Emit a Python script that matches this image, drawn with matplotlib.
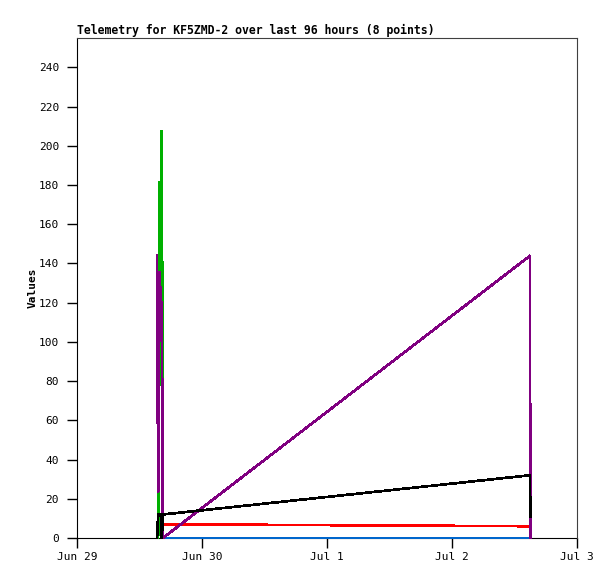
import matplotlib
matplotlib.use("Agg")
import matplotlib.pyplot as plt
import matplotlib.dates as mdates
import numpy as np
import pandas as pd

# Data (8 telemetry points)
times = ["2013-06-29 15:22", "2013-06-29 15:35", "2013-06-29 15:52", "2013-06-29 16:05",
         "2013-06-29 16:17", "2013-06-29 16:30", "2013-07-02 15:00", "2013-07-02 15:01"]
red_vals = [7, 7, 7, 7, 7, 7, 6, 6]
green_vals = [0, 0, 182, 78, 208, 0, 0, 0]
blue_vals = [np.nan, np.nan, np.nan, np.nan, np.nan, 0, 0, 0]
purple_vals = [144, 23, 136, 120, 120, 0, 144, 0]
black_vals = [0, 12, 12, 12, 0, 12, 32, 11]

title = "Telemetry for KF5ZMD-2 over last 96 hours (8 points)"
ylabel = "Values"
yticks = list(range(0, 241, 20))
xstart, xend = "2013-06-29", "2013-07-03"

t = pd.to_datetime(times)

plt.rcParams['font.family'] = ['DejaVu Sans Mono']
fig = plt.figure(figsize=(6.15, 5.79), dpi=100)
ax = fig.add_axes([77/615, 41/579, 500/615, 500/579])

series = [(red_vals, "#ff0000"), (green_vals, "#00b000"), (blue_vals, "#0066cc"),
          (purple_vals, "#800080"), (black_vals, "#000000")]
for i, (vals, col) in enumerate(series):
    ax.plot(t, vals, color=col, lw=1.2, clip_on=False, zorder=3 + i * 0.1,
            solid_joinstyle='miter', antialiased=False)

ax.set_ylim(0, 255)
ax.set_yticks(yticks)
ax.set_xlim(pd.Timestamp(xstart), pd.Timestamp(xend))
ax.xaxis.set_major_locator(mdates.DayLocator())
ax.xaxis.set_major_formatter(mdates.DateFormatter("%b %-d"))
ax.tick_params(axis='both', direction='out', length=7, width=1, labelsize=8, colors='black')
ax.tick_params(axis='x', pad=3)
ax.tick_params(axis='y', pad=6)

for s in ['left', 'bottom']:
    ax.spines[s].set_color('black')
    ax.spines[s].set_zorder(2)
for s in ['top', 'right']:
    ax.spines[s].set_color('#404040')

ax.set_ylabel(ylabel, fontsize=8, fontweight='bold', labelpad=0.5)
ax.set_title(title, fontsize=8.3, fontweight='bold', loc='left', pad=3)

fig.savefig("out.png", dpi=100)
